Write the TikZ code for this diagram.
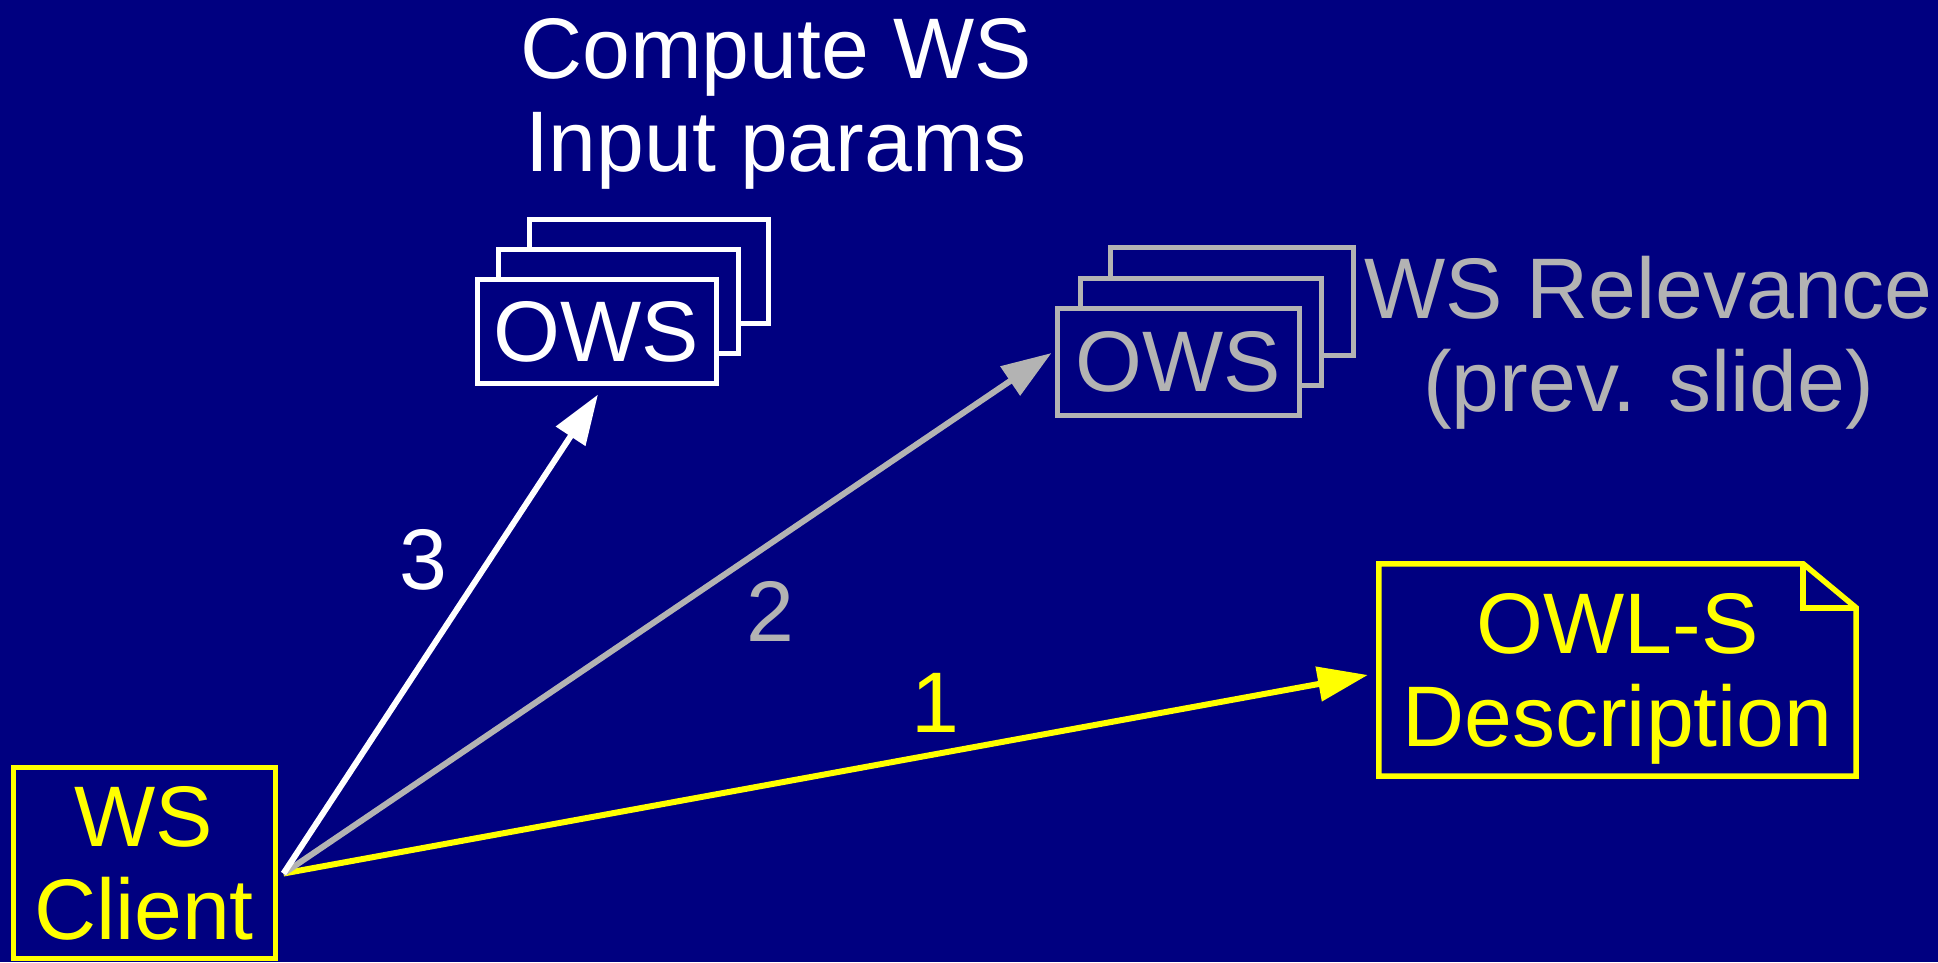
\documentclass[tikz,border=0pt]{standalone}
\usepackage{fontspec}
\setmainfont{Liberation Sans}
\usetikzlibrary{arrows.meta,calc}
\definecolor{navy}{RGB}{0,0,128}
\definecolor{lgray}{RGB}{179,179,179}
\definecolor{yel}{RGB}{255,255,0}
\begin{document}
\begin{tikzpicture}[x=1pt,y=-1pt,
  txt/.style={font=\fontsize{86}{93}\selectfont, align=center, inner sep=0pt, text depth=0pt},
  box/.style={draw, line width=5pt, fill=navy, inner sep=0pt},
  conn/.style={line width=6pt, -{Triangle[length=50pt,width=34pt]}},
  outline/.style={line width=5.5pt, line join=miter},
]
\fill[navy] (0,0) rectangle (1938,962);
\useasboundingbox (0,0) rectangle (1938,962);

% WS client
\node[box, txt, draw=yel, text=yel, minimum width=262pt, minimum height=191pt] (client) at (144,862.5) {WS\\Client};

% white OWS stack
\node[box, draw=white, minimum width=239pt, minimum height=104pt] (owsc) at (648.5,271) {};
\node[box, draw=white, minimum width=240pt, minimum height=104pt] (owsb) at (618,301) {};
\node[box, txt, draw=white, text=white, minimum width=239pt, minimum height=104pt] (ows) at (596.5,331) {OWS};

% gray OWS stack
\node[box, draw=lgray, minimum width=243pt, minimum height=108pt] (gowsc) at (1231.5,301) {};
\node[box, draw=lgray, minimum width=241pt, minimum height=107pt] (gowsb) at (1200.5,331.5) {};
\node[box, txt, draw=lgray, text=lgray, minimum width=242pt, minimum height=107pt] (gows) at (1178,361.5) {OWS};

% texts
\node[txt, text=white] (compute) at (776,95) {Compute WS\\Input params};
\node[txt, text=lgray] (relev) at (1648.5,334) {WS Relevance\\(prev. slide)};

% OWL-S document
\node[txt, text=yel, minimum width=477pt, minimum height=212pt] (doc) at (1617.5,670) {OWL-S\\Description};
\draw[yel, outline] (doc.north west) -- ($(doc.north east)+(-53,0)$) -- ($(doc.north east)+(0,44)$) -- (doc.south east) -- (doc.south west) -- cycle;
\draw[yel, outline] ($(doc.north east)+(-53,0)$) -- ($(doc.north east)+(-53,44)$) -- ($(doc.north east)+(0,44)$);

% connectors
\coordinate (src) at ($(client.east)+(6,11)$);
\draw[conn, yel] (src) -- ($(doc.west)+(-11,5)$);
\draw[conn, lgray] (src) -- ($(gows.west)+(-3,-8.5)$);
\draw[conn, white] (src) -- ($(ows.south)+(1.5,9)$);

% connector labels
\node[txt, text=white] (l3) at (423,559) {3};
\node[txt, text=lgray] (l2) at (770,611) {2};
\node[txt, text=yel] (l1) at (935,703) {1};
\end{tikzpicture}
\end{document}
